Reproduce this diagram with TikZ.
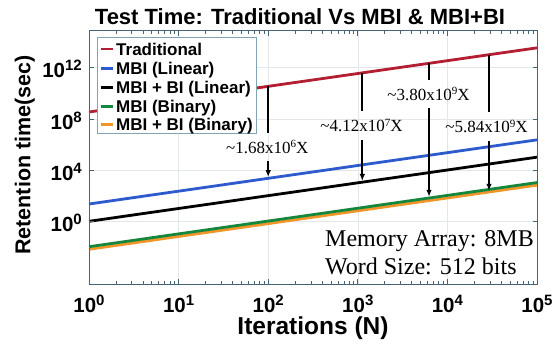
\documentclass[tikz,border=0pt]{standalone}
\usepackage{fontspec}
\setmainfont{Liberation Sans}
\newfontfamily\tnr{Liberation Serif}
\usetikzlibrary{arrows.meta}
\definecolor{cTrad}{RGB}{180,30,50}
\definecolor{cLin}{RGB}{45,90,205}
\definecolor{cBinG}{RGB}{20,135,60}
\definecolor{cBinO}{RGB}{240,150,40}
\definecolor{axc}{RGB}{70,100,115}
\definecolor{gridc}{RGB}{226,231,236}
\definecolor{legc}{RGB}{130,165,180}
\newcommand\tenpow[1]{10\raisebox{7pt}{\fontsize{15}{15}\selectfont #1}}
\newcommand\annpow[1]{10\raisebox{5.5pt}{\fontsize{11}{11}\selectfont #1}}
\begin{document}
\begin{tikzpicture}[x=1pt,y=-1pt,
  series/.style={line width=2.8pt},
  annoline/.style={line width=1.8pt,black},
  annoarrow/.style={line width=1.8pt,black,-{Latex[length=7pt,width=5.5pt]},shorten >=1.2pt},
  anno/.style={font=\tnr\fontsize{17}{17}\selectfont, inner sep=0pt, minimum height=28.5pt},
  legtext/.style={font=\bfseries\fontsize{17}{17}\selectfont, inner sep=0pt, anchor=base west},
  legline/.style={line width=2.6pt},
  ticklab/.style={font=\bfseries\fontsize{20.5}{20.5}\selectfont, inner sep=0pt, text depth=0pt},
  memo/.style={font=\tnr\fontsize{24}{24}\selectfont, inner sep=0pt, anchor=base west},
  axlab/.style={font=\bfseries\fontsize{24.5}{24.5}\selectfont, inner sep=0pt, text height=18pt, text depth=5pt}
]
\useasboundingbox[fill=white] (0,0) rectangle (555,348);

% title
\node[font=\bfseries\fontsize{22}{22}\selectfont, inner sep=0pt, anchor=base] (title) at (300,24.8) {Test Time: Traditional Vs MBI \& MBI+BI};

\begin{scope}[shift={(89pt,-221.7pt)}, x=89.6pt, y=12.83pt]
  \def\ymin{-4.856}
  \def\ymax{14.887}
  % grid
  \foreach \i in {1,...,4} \draw[gridc, line width=0.6pt] (\i,\ymin) -- (\i,\ymax);
  \foreach \j in {0,4,8,12} \draw[gridc, line width=0.6pt] (0,\j) -- (5,\j);
  % series
  \draw[series, cTrad] (0,8.55) -- (5,13.55);
  \draw[series, cLin] (0,1.38) -- (5,6.38);
  \draw[series, black] (0,0.03) -- (5,5.03);
  \draw[series, cBinO] (0,-2.15) -- (5,2.85);
  \draw[series, cBinG] (0,-1.95) -- (5,3.05);
  % annotation coordinates
  \coordinate (t1) at (2,10.55);
  \coordinate (b1) at (2,3.38);
  \coordinate (t2) at (3.05,11.6);
  \coordinate (b2) at (3.05,3.08);
  \coordinate (t3) at (3.795,12.345);
  \coordinate (b3) at (3.795,1.845);
  \coordinate (t4) at (4.464,13.014);
  \coordinate (b4) at (4.464,2.314);
  % axes ticks
  \foreach \i in {0,...,5} {
    \draw[axc, line width=0.7pt] (\i,\ymin) -- ++(0pt,5pt);
    \draw[axc, line width=0.7pt] (\i,\ymax) -- ++(0pt,-5pt);
  }
  \foreach \i in {0,...,4} \foreach \k in {2,...,9} {
    \draw[axc, line width=0.6pt] ({\i+log10(\k)},\ymin) -- ++(0pt,3pt);
    \draw[axc, line width=0.6pt] ({\i+log10(\k)},\ymax) -- ++(0pt,-3pt);
  }
  \foreach \j in {0,4,8,12} {
    \draw[axc, line width=0.7pt] (0,\j) -- ++(4.5pt,0pt);
    \draw[axc, line width=0.7pt] (5,\j) -- ++(-4.5pt,0pt);
  }
  \draw[axc, line width=0.8pt] (0,\ymin) rectangle (5,\ymax);
\end{scope}

% annotation labels and arrows
\node[anno] (l1) at (267.2,147) {\textasciitilde1.68x\annpow{6}X};
\node[anno] (l2) at (361.5,125.7) {\textasciitilde4.12x\annpow{7}X};
\node[anno] (l3) at (428.5,94) {\textasciitilde3.80x\annpow{9}X};
\node[anno] (l4) at (486.5,126.7) {\textasciitilde5.84x\annpow{9}X};
\draw[annoline] (t1) -- (t1 |- l1.north);
\draw[annoarrow] (t1 |- l1.south) -- (b1);
\draw[annoline] (t2) -- (t2 |- l2.north);
\draw[annoarrow] (t2 |- l2.south) -- (b2);
\draw[annoline] (t3) -- (t3 |- l3.north);
\draw[annoarrow] (t3 |- l3.south) -- (b3);
\draw[annoline] (t4) -- (t4 |- l4.north);
\draw[annoarrow] (t4 |- l4.south) -- (b4);

% legend
\node[draw=legc, fill=white, line width=0.8pt, inner sep=0pt, minimum width=159pt, minimum height=95.7pt, anchor=north west] (legend) at (96.7,37.3) {};
\node[legtext] (e1) at (116,55) {Traditional};
\node[legtext] (e2) at (116,74.2) {MBI (Linear)};
\node[legtext] (e3) at (116,93.4) {MBI + BI (Linear)};
\node[legtext] (e4) at (116,112.2) {MBI (Binary)};
\node[legtext] (e5) at (116,130.5) {MBI + BI (Binary)};
\draw[legline, cTrad] ([xshift=-15.3pt,yshift=6pt]e1.base west) -- ([xshift=-2.7pt,yshift=6pt]e1.base west);
\draw[legline, cLin] ([xshift=-15.3pt,yshift=6pt]e2.base west) -- ([xshift=-2.7pt,yshift=6pt]e2.base west);
\draw[legline, black] ([xshift=-15.3pt,yshift=6pt]e3.base west) -- ([xshift=-2.7pt,yshift=6pt]e3.base west);
\draw[legline, cBinG] ([xshift=-15.3pt,yshift=6pt]e4.base west) -- ([xshift=-2.7pt,yshift=6pt]e4.base west);
\draw[legline, cBinO] ([xshift=-15.3pt,yshift=6pt]e5.base west) -- ([xshift=-2.7pt,yshift=6pt]e5.base west);

% memory text
\node[memo] (m1) at (325,246.7) {Memory Array: 8MB};
\node[memo] (m2) at (325,274.3) {Word Size: 512 bits};

% tick labels
\node[ticklab, anchor=base] (x0) at (89,312.5) {\tenpow{0}};
\node[ticklab, anchor=base] (x1) at (178.6,312.5) {\tenpow{1}};
\node[ticklab, anchor=base] (x2) at (268.2,312.5) {\tenpow{2}};
\node[ticklab, anchor=base] (x3) at (357.8,312.5) {\tenpow{3}};
\node[ticklab, anchor=base] (x4) at (447.4,312.5) {\tenpow{4}};
\node[ticklab, anchor=base] (x5) at (537,312.5) {\tenpow{5}};
\node[ticklab, anchor=base east] (y0) at (82,231.7) {\tenpow{0}};
\node[ticklab, anchor=base east] (y4) at (82,180.4) {\tenpow{4}};
\node[ticklab, anchor=base east] (y8) at (82,129) {\tenpow{8}};
\node[ticklab, anchor=base east] (y12) at (82,77.7) {\tenpow{12}};

% axis labels
\node[axlab, anchor=base] (xlab) at (313,334.5) {Iterations (N)};
\node[font=\bfseries\fontsize{21.5}{21.5}\selectfont, inner sep=0pt, rotate=90, anchor=base] (ylab) at (30.5,155) {Retention time(sec)};
\end{tikzpicture}
\end{document}
